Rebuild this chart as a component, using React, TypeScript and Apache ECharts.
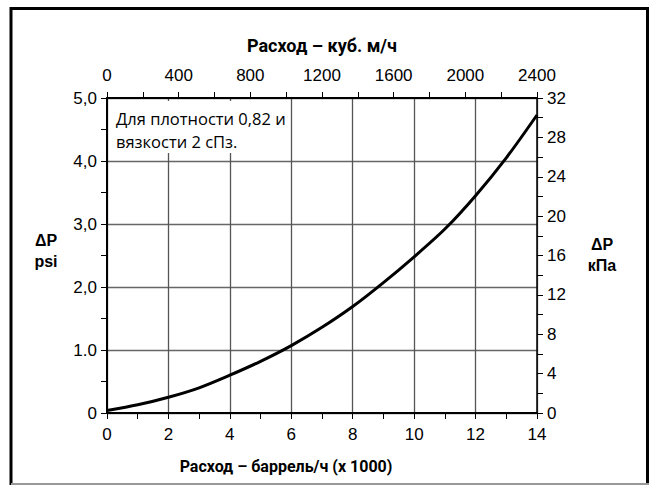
import React, { useEffect, useRef } from "react";
import * as echarts from "echarts";

// Flow, thousand barrels per hour
const flowKbbl = [0, 1, 2, 3, 4, 5, 6, 7, 8, 9, 10, 11, 12, 13, 14];
// Pressure drop, psi
const dpPsi = [0.04, 0.13, 0.25, 0.4, 0.6, 0.82, 1.07, 1.36, 1.69, 2.07, 2.48, 2.92, 3.45, 4.05, 4.73];

const psiLabels: Record<number, string> = { 0: "0", 1: "1.0", 2: "2,0", 3: "3,0", 4: "4,0", 5: "5,0" };

const topTitle = "Расход – куб. м/ч";
const bottomTitle = "Расход – баррель/ч (x 1000)";
const noteLines = ["Для плотности 0,82 и", "вязкости 2 сПз."];

export default function App() {
  const ref = useRef<HTMLDivElement>(null);
  useEffect(() => {
    if (!ref.current) return;
    const chart = echarts.init(ref.current, null, { renderer: "svg" });
    const tickFont = { fontFamily: "Liberation Sans, Arial, sans-serif", fontSize: 17, color: "#000" };
    const titleFont = "Roboto, Open Sans, sans-serif";
    chart.setOption({
      animation: false,
      backgroundColor: "#fff",
      grid: { left: 107, right: 112, top: 98, bottom: 72, containLabel: false },
      xAxis: [
        {
          type: "value",
          position: "bottom",
          min: 0,
          max: 14,
          interval: 2,
          axisLine: { show: true, onZero: false, lineStyle: { color: "#000", width: 2 } },
          axisTick: { show: true, length: 6, lineStyle: { color: "#000", width: 1 } },
          minorTick: { show: true, splitNumber: 2, length: 6, lineStyle: { color: "#000", width: 1 } },
          axisLabel: { ...tickFont, margin: 13, formatter: (v: number) => String(v) },
          splitLine: { show: true, lineStyle: { color: "#555", width: 1.3 } },
        },
        {
          type: "value",
          position: "top",
          min: 0,
          max: 2400,
          interval: 400,
          axisLine: { show: true, onZero: false, lineStyle: { color: "#000", width: 2 } },
          axisTick: { show: true, length: 6, lineStyle: { color: "#000", width: 1 } },
          minorTick: { show: true, splitNumber: 2, length: 6, lineStyle: { color: "#000", width: 1 } },
          axisLabel: { ...tickFont, margin: 14, formatter: (v: number) => String(v) },
          splitLine: { show: false },
        },
      ],
      yAxis: [
        {
          type: "value",
          position: "left",
          min: 0,
          max: 5,
          interval: 1,
          axisLine: { show: true, onZero: false, lineStyle: { color: "#000", width: 2 } },
          axisTick: { show: true, length: 6, lineStyle: { color: "#000", width: 1 } },
          minorTick: { show: true, splitNumber: 2, length: 6, lineStyle: { color: "#000", width: 1 } },
          axisLabel: { ...tickFont, margin: 10, formatter: (v: number) => psiLabels[v] ?? String(v) },
          splitLine: { show: true, lineStyle: { color: "#666", width: 1.3 } },
        },
        {
          type: "value",
          position: "right",
          min: 0,
          max: 32,
          interval: 4,
          axisLine: { show: true, onZero: false, lineStyle: { color: "#000", width: 1.5 } },
          axisTick: { show: true, length: 6, lineStyle: { color: "#000", width: 1 } },
          minorTick: { show: true, splitNumber: 2, length: 6, lineStyle: { color: "#000", width: 1 } },
          axisLabel: { ...tickFont, margin: 10, formatter: (v: number) => String(v) },
          splitLine: { show: false },
        },
      ],
      series: [
        {
          type: "line",
          xAxisIndex: 0,
          yAxisIndex: 0,
          data: flowKbbl.map((x, i) => [x, dpPsi[i]]),
          smooth: 0.3,
          showSymbol: false,
          lineStyle: { color: "#000", width: 3 },
          z: 5,
        },
      ],
      graphic: [
        {
          type: "polyline",
          shape: { points: [[11, 485], [11, 8.5], [647.5, 8.5], [647.5, 485]] },
          style: { stroke: "#000", lineWidth: 3, fill: "none" },
          silent: true,
        },
        {
          type: "line",
          shape: { x1: 11, y1: 484, x2: 649, y2: 484 },
          style: { stroke: "#999", lineWidth: 2 },
          silent: true,
        },
        {
          type: "rect",
          shape: { x: 109, y: 101, width: 180, height: 52 },
          style: { fill: "#fff" },
          z: 10,
          silent: true,
        },
        {
          type: "text",
          x: 116,
          y: 107,
          z: 11,
          style: {
            text: noteLines.join("\n"),
            fontFamily: "Open Sans, sans-serif",
            fontSize: 16.5,
            lineHeight: 23,
            fill: "#000",
          },
          silent: true,
        },
        {
          type: "text",
          x: 322,
          y: 45,
          style: { text: topTitle, fontFamily: titleFont, fontWeight: "bold", fontSize: 18, fill: "#000", align: "center", verticalAlign: "middle" },
          silent: true,
        },
        {
          type: "text",
          x: 286,
          y: 466,
          style: { text: bottomTitle, fontFamily: titleFont, fontWeight: "bold", fontSize: 16, fill: "#000", align: "center", verticalAlign: "middle" },
          silent: true,
        },
        {
          type: "text",
          x: 46,
          y: 251,
          style: { text: "ΔP\npsi", fontFamily: "Liberation Sans, Arial, sans-serif", fontWeight: "bold", fontSize: 16, lineHeight: 21, fill: "#000", align: "center", verticalAlign: "middle" },
          silent: true,
        },
        {
          type: "text",
          x: 602,
          y: 255,
          style: { text: "ΔP\nкПа", fontFamily: "Liberation Sans, Arial, sans-serif", fontWeight: "bold", fontSize: 16, lineHeight: 21, fill: "#000", align: "center", verticalAlign: "middle" },
          silent: true,
        },
      ],
    });
    return () => chart.dispose();
  }, []);
  return <div ref={ref} style={{ position: "fixed", left: 0, top: 0, width: 649, height: 485 }} />;
}
